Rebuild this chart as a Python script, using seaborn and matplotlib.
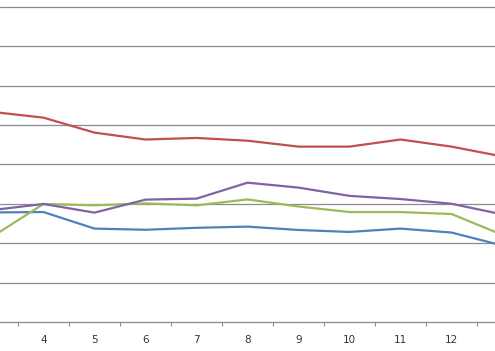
import matplotlib
matplotlib.use("Agg")
import matplotlib.pyplot as plt
import seaborn as sns
import pandas as pd
from matplotlib.ticker import FixedLocator, NullFormatter, FixedFormatter

categories = [3, 4, 5, 6, 7, 8, 9, 10, 11, 12, 13]
tick_labels = ["3", "4", "5", "6", "7", "8", "9", "10", "11", "12", "13"]
series_a = [27.8, 27.9, 23.7, 23.4, 23.9, 24.2, 23.35, 22.85, 23.7, 22.7, 19.4]   # blue
series_b = [53.3, 51.85, 48.05, 46.3, 46.7, 46.0, 44.5, 44.5, 46.3, 44.5, 42.0]  # red
series_c = [21.7, 29.95, 29.6, 30.1, 29.6, 31.1, 29.3, 27.9, 27.9, 27.4, 22.1]   # green
series_d = [28.4, 29.95, 27.75, 31.05, 31.3, 35.35, 34.1, 32.0, 31.2, 30.0, 27.3]  # purple

names = ["A", "B", "C", "D"]
colors = ["#4F81BD", "#C0504D", "#9BBB59", "#8064A2"]

rows = []
for name, vals in zip(names, [series_a, series_b, series_c, series_d]):
    for c, v in zip(categories, vals):
        rows.append({"cat": c, "value": v, "series": name})
df = pd.DataFrame(rows)

sns.set_style("white")
fig = plt.figure(figsize=(4.95, 3.51), dpi=100)
ax = fig.add_axes([0, 29 / 351, 1, 322 / 351])

sns.lineplot(data=df, x="cat", y="value", hue="series", palette=dict(zip(names, colors)),
             estimator=None, sort=False, linewidth=1.6, legend=False, ax=ax, zorder=3)

ax.set_xlim(3.147, 12.853)
ax.set_ylim(0, 81.7)
ax.set_xlabel("")
ax.set_ylabel("")

ax.set_yticks([10, 20, 30, 40, 50, 60, 70, 80])
ax.yaxis.grid(True, color="#8c8c8c", linewidth=0.9)
ax.tick_params(axis="y", left=False, labelleft=False)

ax.xaxis.set_major_locator(FixedLocator([c + 0.5 for c in categories[:-1]] + [2.5]))
ax.xaxis.set_major_formatter(NullFormatter())
ax.xaxis.set_minor_locator(FixedLocator(categories))
ax.xaxis.set_minor_formatter(FixedFormatter(tick_labels))
ax.tick_params(axis="x", which="major", direction="out", length=3.2, width=0.8,
               color="#8c8c8c", bottom=True)
ax.tick_params(axis="x", which="minor", length=0, pad=9.5, labelsize=7.5,
               labelcolor="#333333")

for s in ["left", "right", "top"]:
    ax.spines[s].set_visible(False)
ax.spines["bottom"].set_color("#8c8c8c")
ax.spines["bottom"].set_linewidth(0.9)

fig.savefig("out.png", dpi=100)
